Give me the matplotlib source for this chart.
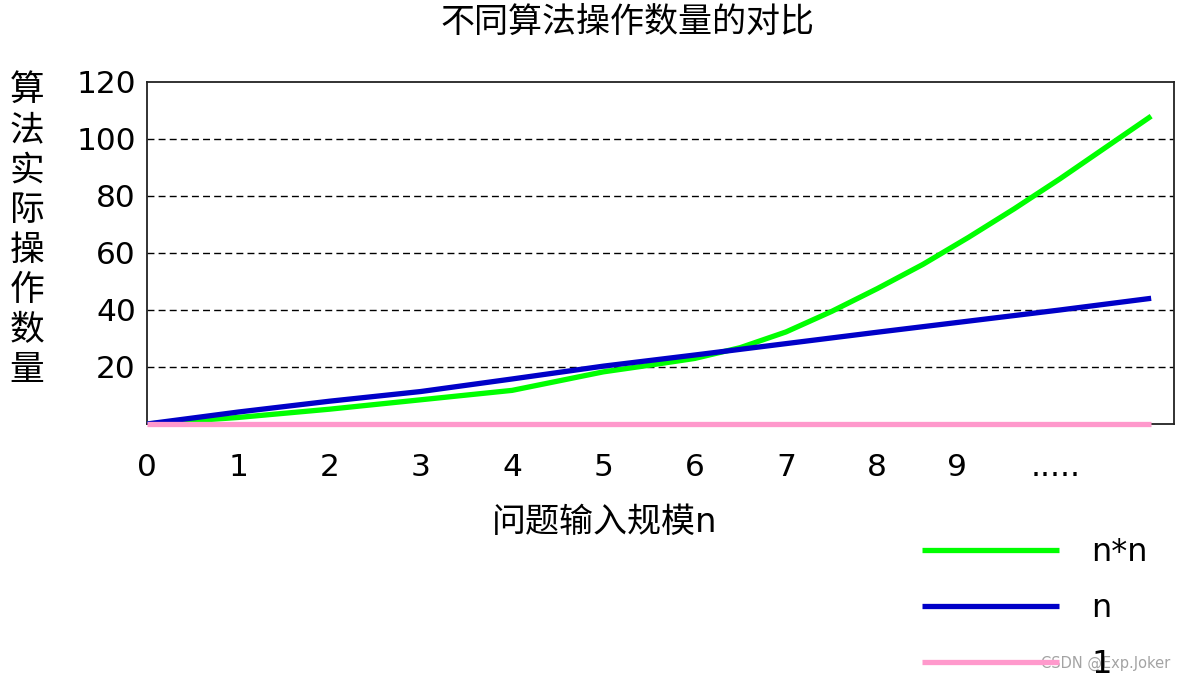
import matplotlib
matplotlib.use("Agg")
import matplotlib.pyplot as plt

plt.rcParams['font.family'] = ['DejaVu Sans', 'Noto Sans CJK SC']

# readings
x_sq = [0, 1, 2, 3, 4, 5, 5.5, 6, 6.5, 7, 7.5, 8, 8.5, 9, 9.5, 10, 10.5, 11]
y_sq = [0, 2.3, 5.2, 8.5, 11.8, 18.3, 20.6, 23.0, 26.8, 32.3, 39.5, 47.5, 56, 65.5, 75.5, 86, 97, 108]

x_lin = [0, 1, 2, 3, 4, 5, 6, 7, 8, 9, 10, 11]
y_lin = [0, 4.2, 8.0, 11.4, 15.8, 20.3, 24.2, 28.2, 32.2, 36.1, 40.0, 44.1]

x_const = [0, 11]
y_const = [0, 0]

xtick_pos = [0, 1, 2, 3, 4, 5, 6, 7, 8, 8.87, 9.95]
xtick_lab = ['0', '1', '2', '3', '4', '5', '6', '7', '8', '9', '.....']
ytick_pos = [20, 40, 60, 80, 100, 120]
grid_lv = [20, 40, 60, 80, 100]

fig = plt.figure(figsize=(11.85, 6.83), dpi=100)
ax = fig.add_axes([0.124, 0.3792, 0.8667, 0.5008])

l1, = ax.plot(x_sq, y_sq, color='#00ff00', lw=3.8, solid_capstyle='butt', zorder=3)
l2, = ax.plot(x_lin, y_lin, color='#0000c8', lw=3.8, solid_capstyle='butt', zorder=4)
l3, = ax.plot(x_const, y_const, color='#ff99cc', lw=3.8, solid_capstyle='butt',
              zorder=5, clip_on=False)

for g in grid_lv:
    ax.axhline(g, color='black', lw=1.0, ls=(0, (5, 3)), zorder=1)

ax.set_xlim(0, 11.25)
ax.set_ylim(0, 120)
ax.set_xticks(xtick_pos)
ax.set_xticklabels(xtick_lab)
ax.set_yticks(ytick_pos)
ax.tick_params(axis='x', length=0, pad=21, labelsize=22.5)
ax.tick_params(axis='y', length=0, pad=8, labelsize=22.5)
for s in ax.spines.values():
    s.set_linewidth(1.3)
    s.set_color('#222222')

fig.text(627 / 1185, 1 - 22 / 683, '不同算法操作数量的对比', ha='center', va='center', fontsize=24.5)
fig.text(605 / 1185, 1 - 522 / 683, '问题输入规模n', ha='center', va='center', fontsize=24.5)
fig.text(27 / 1185, 1 - 230 / 683, '\n'.join('算法实际操作数量'), ha='center', va='center',
         fontsize=25, linespacing=1.22)

fig.legend([l1, l2, l3], ['n*n', 'n', '1'], loc='upper left',
           bbox_to_anchor=(922 / 1185, 1 - 537 / 683), frameon=False, fontsize=23,
           handlelength=4.3, handletextpad=1.0, labelspacing=0.79,
           borderpad=0, borderaxespad=0)

fig.text(1170 / 1185, 1 - 663 / 683, 'CSDN @Exp.Joker', ha='right', va='center',
         fontsize=10.5, color='#999999', alpha=0.9)

fig.savefig('out.png', dpi=100)
